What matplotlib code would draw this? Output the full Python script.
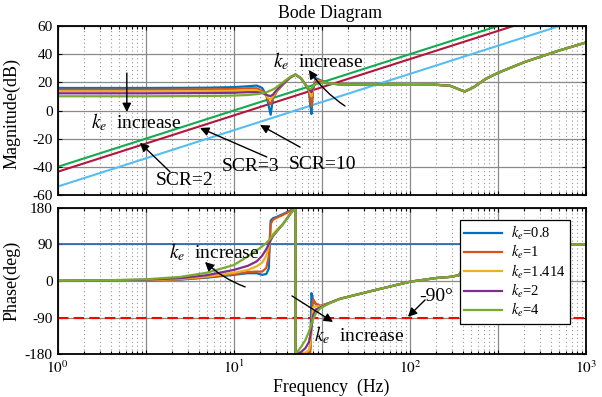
import numpy as np
import matplotlib
matplotlib.use('Agg')
import matplotlib.pyplot as plt
from matplotlib.ticker import NullFormatter

plt.rcParams['font.family'] = ['Liberation Serif', 'DejaVu Serif']
plt.rcParams['mathtext.fontset'] = 'stix'
plt.rcParams['axes.unicode_minus'] = False

# frequency grid (Hz) where the k_e curves differ, and the shared tail
freq_head = [1, 2, 3.16, 5, 7, 10, 12, 13.5, 14.5, 15.3, 15.8, 16.2, 16.7, 17.5,
             19, 21, 22.4, 22.4, 24, 25.5, 26.7, 27.2, 27.6, 28.2, 29.2, 31, 35]
freq_tail = [40, 60, 100, 140, 170, 190, 205, 230, 270, 320, 450, 700, 1000]

ke_labels = ['$k_e$=0.8', '$k_e$=1', '$k_e$=1.414', '$k_e$=2', '$k_e$=4']
ke_colors = ['#0072BD', '#D95319', '#EDB120', '#7E2F8E', '#77AC30']

# magnitude (dB)
mag_ke08 = [16, 16, 16, 16.1, 16.2, 16.6, 17.2, 17.7, 16, 11, 3, -3, 9, 13.5,
            18.5, 23.5, 25.5, 25.5, 23, 18.5, 14, 4, -2.5, 16, 23, 21.5, 19.2]
mag_ke1 = [14.8, 14.8, 14.8, 14.9, 15, 15.3, 15.8, 15.8, 14, 10.5, 6, 4.5, 9, 13.5,
           18.5, 23.5, 25.5, 25.5, 23, 18.5, 14.5, 8, 3, 15, 22, 21, 19.2]
mag_ke1414 = [13.6, 13.6, 13.6, 13.7, 13.8, 14, 14.4, 14.2, 13, 10.5, 8.5, 8, 10, 14,
              18.8, 23.5, 25.5, 25.5, 23, 18.5, 15, 12, 10, 15.5, 21, 20.5, 19.2]
mag_ke2 = [12.2, 12.2, 12.2, 12.3, 12.4, 12.6, 13, 13, 12.5, 11.2, 10.5, 10.3, 11.3, 14.5,
           19, 23.7, 25.5, 25.5, 23, 18.5, 15.2, 14, 13, 16, 20, 20, 19.2]
mag_ke4 = [10.1, 10.1, 10.1, 10.2, 10.3, 10.6, 11, 11.6, 12.2, 13, 13.6, 14.2, 15, 16.5,
           20, 24, 25.5, 25.5, 23, 18.5, 15.5, 15.3, 15.8, 17, 19, 19.6, 19.2]
mag_tail = [18.6, 18.3, 18.2, 18.3, 17.5, 15, 13.5, 16.5, 22.5, 27, 34.5, 42.5, 48.3]

# phase (deg)
ph_ke08 = [0.2, 0.6, 1.2, 3.5, 8, 15, 19, 19, 15, 17, 30, 148, 154, 157, 164, 173,
           180, -180, -179, -178, -176, -165, -30, -45, -57, -61, -54]
ph_ke1 = [0.2, 0.8, 1.5, 4, 9, 16.5, 22, 23, 23, 32, 60, 140, 150, 155, 162, 172,
          180, -180, -179, -178, -177, -175, -110, -45, -56, -62, -54]
ph_ke1414 = [0.2, 1, 2, 5, 11, 20, 27, 36, 45, 62, 85, 103, 115, 125, 140, 166,
             180, -180, -178, -176, -170, -155, -120, -65, -62, -63, -54]
ph_ke2 = [0.3, 1.5, 3, 7, 14, 27, 37, 48, 62, 78, 90, 100, 110, 121, 139, 165,
          180, -180, -175, -165, -150, -135, -115, -85, -70, -65, -54]
ph_ke4 = [0.5, 2, 4, 10, 20, 39, 60, 75, 85, 93, 99, 104, 112, 121, 139, 165,
          180, -180, -163, -145, -125, -115, -106, -95, -80, -67, -55]
ph_tail = [-44, -25, -2, 7, 10, 14, 38, 62, 80, 87, 89.5, 90, 90]

# grid impedance lines for different SCR (dB at 1 Hz and 1000 Hz)
scr_freq = [1, 1000]
scr2_db = [-40, 80]
scr3_db = [-43.5, 76.5]
scr10_db = [-54, 66]
scr_colors = ['#14AA4E', '#B0173A', '#55BEF0']

phase_ref_90 = 90
phase_ref_m90 = -90

mag_series = [mag_ke08, mag_ke1, mag_ke1414, mag_ke2, mag_ke4]
ph_series = [ph_ke08, ph_ke1, ph_ke1414, ph_ke2, ph_ke4]

fig = plt.figure(figsize=(6.02, 3.97), dpi=100)
ax1 = fig.add_axes([0.0958, 0.5088, 0.8776, 0.4257])
ax2 = fig.add_axes([0.0958, 0.1076, 0.8776, 0.3695])

# grid looks like half-decade majors with log-spaced minors inside each
major_x = 10 ** (np.arange(0, 7) / 2)
minor_x = [10 ** ((n + np.log10(k)) / 2) for n in range(6) for k in range(2, 10)]
xlabels = ['$10^0$', '', '$10^1$', '', '$10^2$', '', '$10^3$']

for ax in (ax1, ax2):
    ax.set_xscale('log')
    ax.set_xlim(1, 1000)
    ax.set_xticks(major_x)
    ax.set_xticks(minor_x, minor=True)
    ax.xaxis.set_minor_formatter(NullFormatter())
    ax.set_axisbelow(True)
    ax.grid(which='major', color='#8a8a8a', lw=0.9, ls='-')
    ax.grid(which='minor', axis='x', color='#9a9a9a', lw=0.8, ls=(0, (1, 2.5)))
    ax.tick_params(which='both', direction='in', top=True, right=True,
                   labelsize=11, width=0.8)
    ax.tick_params(which='major', length=3)
    ax.tick_params(which='minor', length=2)
    for s in ax.spines.values():
        s.set_linewidth(1.3)

ax1.set_xticklabels([''] * 7)
ax2.set_xticklabels(xlabels)

# magnitude
ax1.plot(scr_freq, scr2_db, color=scr_colors[0], lw=1.5)
ax1.plot(scr_freq, scr3_db, color=scr_colors[1], lw=1.5)
ax1.plot(scr_freq, scr10_db, color=scr_colors[2], lw=1.5)
for m, c in zip(mag_series, ke_colors):
    ax1.plot(freq_head + freq_tail, m + mag_tail, color=c, lw=1.6)
ax1.set_ylim(-60, 60)
ax1.set_yticks(np.arange(-60, 61, 20))
ax1.set_ylabel('Magnitude(dB)', fontsize=13)
ax1.yaxis.set_label_coords(-0.071, 0.48)

# phase
ax2.axhline(phase_ref_90, color='#2F6DB5', lw=1.3)
ax2.axhline(phase_ref_m90, color='#FF0000', lw=1.5, dashes=(5, 2.5))
for p, c, lab in zip(ph_series, ke_colors, ke_labels):
    ax2.plot(freq_head + freq_tail, p + ph_tail, color=c, lw=1.6, label=lab)
ax2.set_ylim(-180, 180)
ax2.set_yticks([-180, -90, 0, 90, 180])
ax2.set_ylabel('Phase(deg)', fontsize=13)
ax2.yaxis.set_label_coords(-0.071, 0.5)

leg = ax2.legend(loc='upper left', bbox_to_anchor=(0.7615, 0.918), fontsize=10.5,
                 frameon=True, fancybox=False, edgecolor='k', framealpha=1,
                 handlelength=2.6, handletextpad=0.6, labelspacing=0.08,
                 borderpad=0.3, borderaxespad=0)
leg.get_frame().set_linewidth(0.9)

arrow = dict(arrowstyle='-|>', color='k', lw=1, mutation_scale=13,
             shrinkA=0, shrinkB=0)
tsize = 14

# annotations on magnitude
ax1.annotate('', xy=(2.47, -1.1), xytext=(2.47, 26.6), arrowprops=arrow)
ax1.text(1.55, -8.5, '$k_e$  increase', fontsize=tsize, va='center')
ax1.annotate('', xy=(26.7, 28.8), xytext=(42.8, 3.2),
             arrowprops=dict(arrow, connectionstyle='arc3,rad=-0.1'))
ax1.text(16.6, 35, '$k_e$  increase', fontsize=tsize, va='center')
ax1.annotate('', xy=(2.93, -22.9), xytext=(4.34, -43.5), arrowprops=arrow)
ax1.text(3.6, -49.5, 'SCR=2', fontsize=tsize, va='center')
ax1.annotate('', xy=(6.43, -12.4), xytext=(15.4, -33), arrowprops=arrow)
ax1.text(8.5, -40, 'SCR=3', fontsize=tsize, va='center')
ax1.annotate('', xy=(14.1, -10.3), xytext=(23.8, -26), arrowprops=arrow)
ax1.text(20.4, -38, 'SCR=10', fontsize=tsize, va='center')

# annotations on phase
ax2.annotate('', xy=(6.86, 46.6), xytext=(11.6, -14.7),
             arrowprops=dict(arrow, connectionstyle='arc3,rad=-0.1'))
ax2.text(4.3, 71, '$k_e$  increase', fontsize=tsize, va='center')
ax2.annotate('', xy=(36.6, -100.6), xytext=(21.4, -36.8), arrowprops=arrow)
ax2.text(28.6, -132, '$k_e$  increase', fontsize=tsize, va='center')
ax2.annotate('', xy=(97.5, -88), xytext=(122, -46.6), arrowprops=arrow)
ax2.text(113, -38, '-90°', fontsize=tsize, va='center')

fig.text(330 / 602, 1 - 13 / 397, 'Bode Diagram', ha='center', va='center', fontsize=12.8)
fig.text(331 / 602, 1 - 387 / 397, 'Frequency  (Hz)', ha='center', va='center', fontsize=12.8)

fig.savefig('out.png', dpi=100)
